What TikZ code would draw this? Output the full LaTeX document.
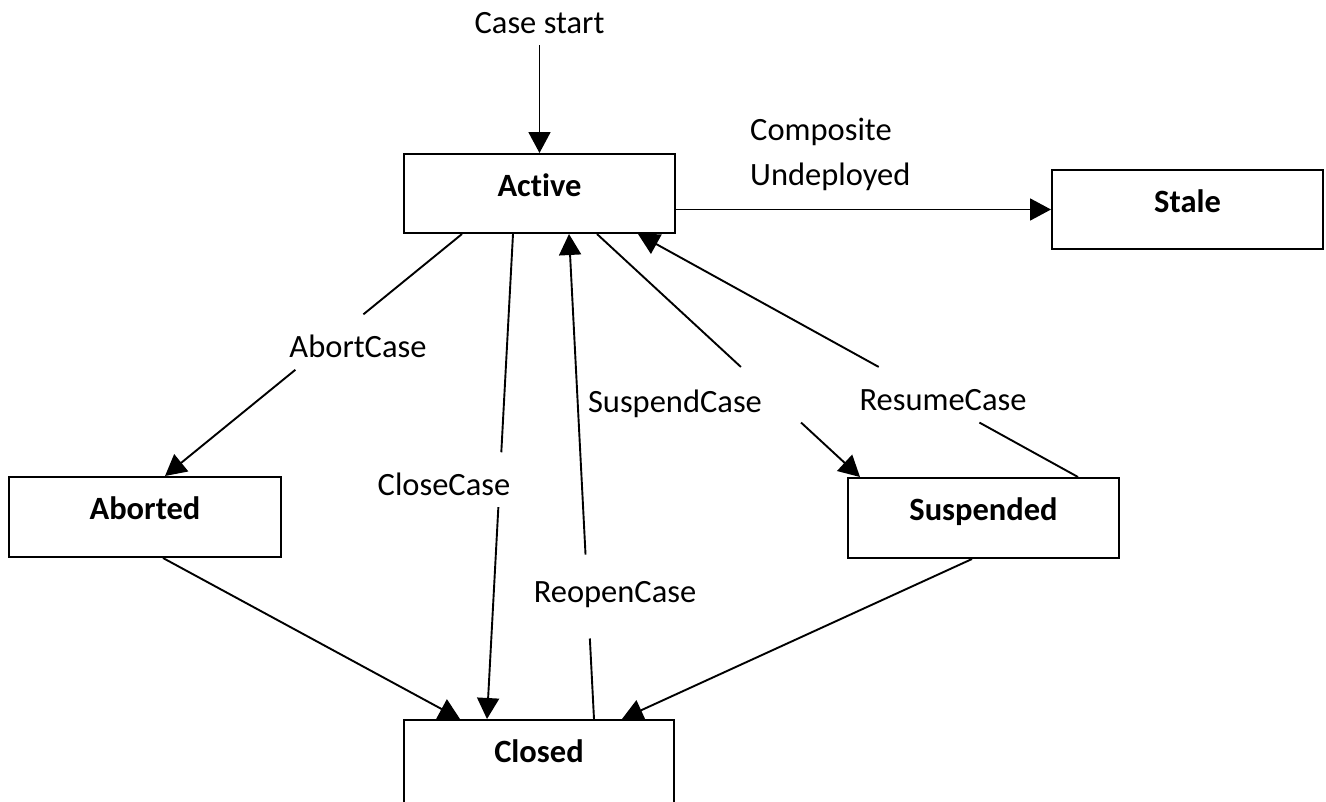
\documentclass[tikz,border=0pt]{standalone}
\usepackage{fontspec}
\setmainfont{Carlito}[Ligatures=CommonOff]
\usetikzlibrary{arrows.meta,calc}
\newcommand{\stxt}[2][-2.5pt]{\raisebox{#1}[0pt][0pt]{#2}}
\begin{document}
\begin{tikzpicture}[x=1pt,y=-1pt,
  state/.style={draw,line width=2pt,minimum width=271pt,minimum height=79pt,inner sep=0pt,
    font=\fontsize{32.5}{39}\selectfont\bfseries},
  lbl/.style={font=\fontsize{32.5}{45}\selectfont,inner sep=0pt},
  conn/.style={line width=1.9pt},
  arr/.style={conn,-{Triangle[length=21pt,width=22pt]}}]
\useasboundingbox (0,0) rectangle (1326,801);

% states
\node[state] (active) at (539.5,193.5) {\stxt{Active}};
\node[state] (stale) at (1187.5,209.5) {\stxt{Stale}};
\node[state,minimum width=272pt,minimum height=80pt] (aborted) at (145,517) {\stxt{Aborted}};
\node[state,minimum height=80pt] (suspended) at (983.5,518) {\stxt{Suspended}};
\node[state,minimum width=270pt,minimum height=83pt] (closed) at (539,761.5) {\stxt[-0.5pt]{Closed}};

% labels
\node[lbl,anchor=base] (cs) at (539.5,33) {Case start};
\node[lbl,anchor=north west,align=left] (cu) at (750,118) {Composite\\Undeployed};
\node[lbl,anchor=base] (lab) at (358,357) {AbortCase};
\node[lbl,anchor=base] (lcl) at (444,495) {CloseCase};
\node[lbl,anchor=base] (lre) at (615,602) {ReopenCase};
\node[lbl,anchor=base] (lsu) at (675,412) {SuspendCase};
\node[lbl,anchor=base] (lrs) at (943,410) {ResumeCase};

% plain connectors
\draw[arr] ([yshift=-12pt]cs.south) -- (cs.south |- active.north);
\draw[arr] (active.east |- stale.west) -- (stale.west);
\draw[arr] ([xshift=18pt]aborted.south) -- ([xshift=-79pt]closed.north);
\draw[arr] ([xshift=-11.5pt]suspended.south) -- ([xshift=83pt]closed.north);

% AbortCase
\path ([xshift=-77.5pt]active.south) -- ([xshift=20pt]aborted.north)
  coordinate[pos=0.332] (ab1) coordinate[pos=0.561] (ab2);
\draw[conn] ([xshift=-77.5pt]active.south) -- (ab1);
\draw[arr] (ab2) -- ([xshift=20pt]aborted.north);

% CloseCase
\path ([xshift=-26.5pt]active.south) -- ([xshift=-52pt]closed.north)
  coordinate[pos=0.45] (cl1) coordinate[pos=0.563] (cl2);
\draw[conn] ([xshift=-26.5pt]active.south) -- (cl1);
\draw[arr] (cl2) -- ([xshift=-52pt]closed.north);

% ReopenCase
\path ([xshift=55pt]closed.north) -- ([xshift=29.5pt]active.south)
  coordinate[pos=0.166] (re1) coordinate[pos=0.339] (re2);
\draw[conn] ([xshift=55pt]closed.north) -- (re1);
\draw[arr] (re2) -- ([xshift=29.5pt]active.south);

% SuspendCase
\path ([xshift=57.5pt]active.south) -- ([xshift=-123.5pt]suspended.north)
  coordinate[pos=0.547] (su1) coordinate[pos=0.776] (su2);
\draw[conn] ([xshift=57.5pt]active.south) -- (su1);
\draw[arr] (su2) -- ([xshift=-123.5pt]suspended.north);

% ResumeCase
\path ([xshift=94.5pt]suspended.north) -- ([xshift=98.5pt]active.south)
  coordinate[pos=0.224] (rs1) coordinate[pos=0.453] (rs2);
\draw[conn] ([xshift=94.5pt]suspended.north) -- (rs1);
\draw[arr] (rs2) -- ([xshift=98.5pt]active.south);
\end{tikzpicture}
\end{document}
